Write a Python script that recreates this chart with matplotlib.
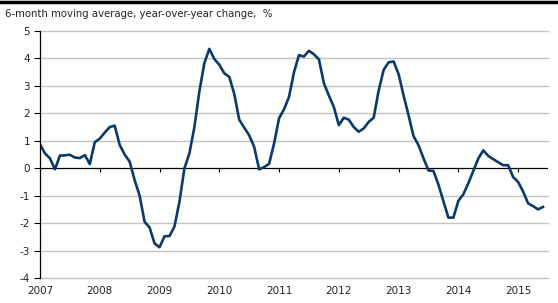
import numpy as np
import matplotlib.pyplot as plt

# monthly values, Jan 2007 .. Jun 2015
v2007 = [0.87, 0.54, 0.36, -0.04, 0.46, 0.47, 0.49, 0.39, 0.37, 0.48, 0.15, 0.95]
v2008 = [1.08, 1.30, 1.50, 1.55, 0.85, 0.50, 0.24, -0.43, -1.00, -1.95, -2.16, -2.74]
v2009 = [-2.88, -2.48, -2.47, -2.12, -1.22, 0.00, 0.54, 1.50, 2.80, 3.83, 4.35, 3.98]
v2010 = [3.77, 3.46, 3.33, 2.71, 1.77, 1.48, 1.20, 0.78, -0.04, 0.04, 0.16, 0.90]
v2011 = [1.82, 2.15, 2.60, 3.50, 4.12, 4.07, 4.28, 4.15, 3.97, 3.10, 2.65, 2.23]
v2012 = [1.57, 1.84, 1.77, 1.50, 1.33, 1.45, 1.69, 1.84, 2.83, 3.58, 3.86, 3.89]
v2013 = [3.43, 2.65, 1.93, 1.17, 0.84, 0.36, -0.08, -0.10, -0.60, -1.20, -1.80, -1.80]
v2014 = [-1.19, -0.95, -0.55, -0.10, 0.35, 0.65, 0.45, 0.33, 0.22, 0.11, 0.11, -0.32]
v2015 = [-0.50, -0.85, -1.28, -1.38, -1.50, -1.41]

values = v2007 + v2008 + v2009 + v2010 + v2011 + v2012 + v2013 + v2014 + v2015
x = 2007 + np.arange(len(values)) / 12.0
years = list(range(2007, 2016))
yticks = list(range(-4, 6))

fig = plt.figure(figsize=(5.58, 3.03), dpi=100)
ax = fig.add_axes([40 / 558, 25 / 303, 508 / 558, 247 / 303])

# grid
for y in yticks:
    if y != 0:
        ax.axhline(y, color="#c4c4c4", lw=1.0, zorder=1, clip_on=False)
ax.axhline(0, color="black", lw=0.9, zorder=2)

ax.plot(x, values, color="#0b3a6a", lw=1.9, zorder=3, solid_joinstyle="round")

ax.set_xlim(2007, 2015.5)
ax.set_ylim(-4, 5)

for s in ["top", "right", "bottom"]:
    ax.spines[s].set_visible(False)
ax.spines["left"].set_color("black")
ax.spines["left"].set_linewidth(0.9)
ax.spines["left"].set_zorder(4)

ax.set_yticks(yticks)
ax.set_yticklabels([str(y) for y in yticks])
ax.tick_params(axis="y", direction="out", length=4, width=0.8, pad=3,
               labelsize=7.5, colors="#222222")
ax.tick_params(axis="y", color="black")

ax.set_xticks(years)
ax.set_xticklabels([str(y) for y in years])
ax.tick_params(axis="x", length=0, pad=6, labelsize=7.5, colors="#222222")

# small ticks on the zero line
sec = ax.secondary_xaxis(4 / 9)
sec.set_xticks(years)
sec.set_xticklabels([])
sec.spines["bottom"].set_visible(False)
sec.tick_params(axis="x", direction="out", length=3, width=0.8, color="black")

fig.text(5 / 558, 1 - 14 / 303, "6-month moving average, year-over-year change,  %",
         fontsize=7.3, color="#222222", va="center", ha="left")

# black bar at the very top
fig.add_artist(plt.Line2D([0, 1], [1 - 1.5 / 303, 1 - 1.5 / 303], color="black",
                          lw=2.5, transform=fig.transFigure))

fig.savefig("out.png", dpi=100)
